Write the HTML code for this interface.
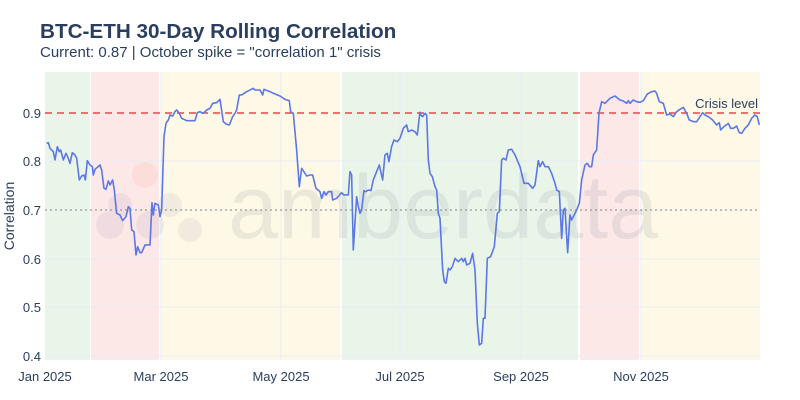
<!DOCTYPE html>
<html><head><meta charset="utf-8"><style>
body{margin:0;background:#fff;}
svg{display:block;font-family:"Liberation Sans",Arial,sans-serif;}
</style></head><body>
<svg width="800" height="400" viewBox="0 0 800 400">
<rect width="800" height="400" fill="#fff"/>
<rect x="45" y="72" width="45" height="288" fill="#eaf5ea"/>
<rect x="91" y="72" width="68" height="288" fill="#fde8e8"/>
<rect x="161" y="72" width="179" height="288" fill="#fef8e6"/>
<rect x="342" y="72" width="236" height="288" fill="#eaf5ea"/>
<rect x="580" y="72" width="59" height="288" fill="#fde8e8"/>
<rect x="641" y="72" width="119" height="288" fill="#fef8e6"/>
<g stroke="#e8ecf4" stroke-width="1">
<line x1="45" x2="760" y1="161" y2="161"/><line x1="45" x2="760" y1="259" y2="259"/>
<line x1="45" x2="760" y1="307" y2="307"/><line x1="45" x2="760" y1="356" y2="356"/>
<line x1="161" x2="161" y1="72" y2="360"/><line x1="281" x2="281" y1="72" y2="360"/>
<line x1="400" x2="400" y1="72" y2="360"/><line x1="521" x2="521" y1="72" y2="360"/>
<line x1="641" x2="641" y1="72" y2="360"/>
</g>
<g opacity="0.1">
<circle cx="145" cy="175" r="13" fill="#f08a5d"/>
<circle cx="120" cy="205" r="12" fill="#8a7aa0"/>
<circle cx="170" cy="205" r="12" fill="#8a7aa0"/>
<circle cx="110" cy="225" r="14" fill="#8a7aa0"/>
<circle cx="150" cy="225" r="14" fill="#8a7aa0"/>
<circle cx="190" cy="230" r="12" fill="#8a7aa0"/>
<text x="228" y="238" font-size="90" fill="#4a6070">amberdata</text>
</g>
<line x1="45" x2="760" y1="113" y2="113" stroke="#ef4444" stroke-width="1.5" stroke-dasharray="7,5"/>
<line x1="45" x2="760" y1="210" y2="210" stroke="#999" stroke-width="1.3" stroke-dasharray="2,3"/>
<text x="758" y="108" font-size="13" fill="#2a3f5f" text-anchor="end">Crisis level</text>
<g fill="none" stroke="#5b78e6" stroke-width="1.6" stroke-linejoin="round">
<polyline transform="translate(40,70) scale(0.3333)" vector-effect="non-scaling-stroke" points="20,220 25,218 30,235 40,245 45,270 52,230 58,245 62,240 70,270 78,250 85,265 90,280 97,248 105,255 110,265 118,330 125,318 132,315 136,330 142,272 150,285 157,290 160,315 165,298 180,285 185,300 192,355 198,358 205,333 210,345 218,330 223,360 230,430 240,435 248,452 258,440 265,410 270,415 275,480 282,485 288,555 293,530 300,548 305,548 315,525 330,525 336,398 340,435 345,400 355,405 360,440 365,420 372,200 378,160 385,150 390,135 398,138 405,125 410,120 418,130 425,145 440,152 460,152 465,152 472,128 480,125 490,130 500,120 510,115 518,100 530,98 540,88 550,155 558,162 568,165 578,140 585,130 590,120 598,75 605,75 620,65 640,55 645,60 660,60 668,75 672,58 690,65 705,72 720,78 735,88 748,92 752,125 760,130 770,240 778,350 785,295 795,310 800,318 810,315 818,315 828,355 840,365 845,385 852,365 858,375 865,365 875,365 878,390 890,385 905,368 912,375 925,375 930,305 935,315 940,540 950,380 955,410 960,430 965,420 972,362 978,365 985,360 993,362 1000,330 1010,305 1018,285 1028,330 1035,255 1042,250 1047,275 1055,230 1062,210 1072,215 1080,205 1090,175 1100,165 1105,185 1115,180 1125,185 1132,195 1140,125"/>
<polyline transform="translate(400,70) scale(0.3333)" vector-effect="non-scaling-stroke" points="60,128 62,135 68,140 75,130 80,135 85,270 90,310 97,320 105,350 110,360 115,430 120,445 128,600 133,635 138,640 145,595 150,600 157,590 165,565 175,575 185,565 190,575 195,565 200,585 210,580 218,550 225,600 232,760 238,825 245,820 250,745 255,745 262,565 272,560 283,530 292,430 298,425 305,270 310,265 318,270 325,240 335,238 345,255 360,290 372,340 385,340 398,355 405,345 415,272 420,290 428,275 435,290 445,290 455,310 465,340 470,360 478,365 485,505 490,420 495,415 503,548 510,435 515,450 520,440 530,420 538,400 545,330 555,285 562,280 568,290 575,290 580,255 590,240 597,130 605,95 615,100 630,85 645,78 660,90 670,93 680,100 685,92 690,100 700,90 710,95 720,97 730,92 742,72 755,65 765,63 770,70 778,95 790,100 800,135 810,132 820,140 830,125 840,118 850,112 860,130 868,150 880,155 890,155 900,140 908,128 915,135 925,140 938,150 950,165 958,158 962,180 972,170 985,160 992,175 1000,175 1010,168 1018,188 1025,190 1035,175 1045,165 1055,145 1065,135 1072,140 1078,165"/>
</g>
<g font-size="13" fill="#2a3f5f" text-anchor="end">
<text x="41" y="118">0.9</text><text x="41" y="166">0.8</text><text x="41" y="215">0.7</text>
<text x="41" y="264">0.6</text><text x="41" y="312">0.5</text><text x="41" y="361">0.4</text>
</g>
<text transform="translate(14,216) rotate(-90)" font-size="14" fill="#2a3f5f" text-anchor="middle">Correlation</text>
<g font-size="13" fill="#2a3f5f" text-anchor="middle">
<text x="45" y="381">Jan 2025</text><text x="161" y="381">Mar 2025</text><text x="281" y="381">May 2025</text>
<text x="400" y="381">Jul 2025</text><text x="521" y="381">Sep 2025</text><text x="641" y="381">Nov 2025</text>
</g>
<text x="40" y="38" font-size="20.7" font-weight="bold" fill="#2a3f5f">BTC-ETH 30-Day Rolling Correlation</text>
<text x="40" y="57" font-size="15" fill="#2a3f5f">Current: 0.87 | October spike = "correlation 1" crisis</text>
</svg>
</body></html>
